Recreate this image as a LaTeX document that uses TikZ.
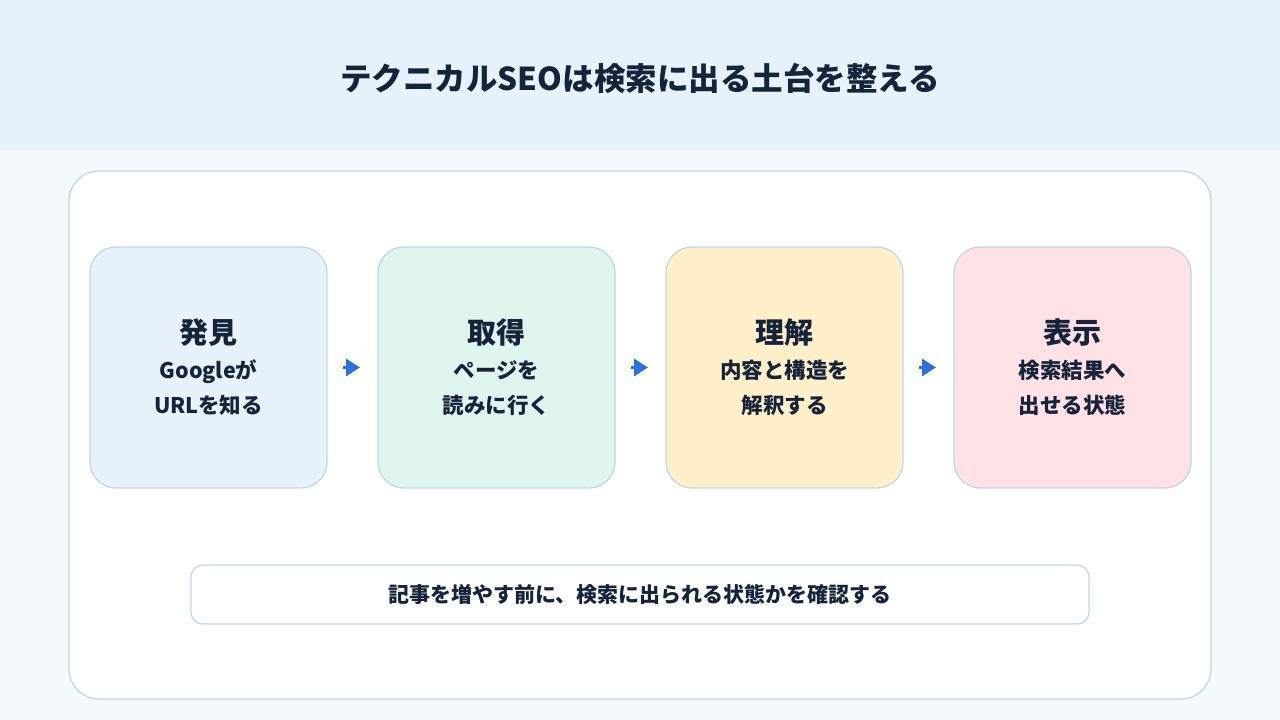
\documentclass[tikz,border=0pt]{standalone}
\usepackage{fontspec}
\setmainfont{Noto Sans CJK JP}
\usetikzlibrary{positioning,calc,arrows.meta}
\definecolor{headbg}{HTML}{E6F3FD}
\definecolor{pagebg}{HTML}{F4F9FD}
\definecolor{panelline}{HTML}{BCD9EC}
\definecolor{inkdark}{HTML}{15243B}
\definecolor{arrowblue}{HTML}{2C6FE0}
\definecolor{fillfind}{HTML}{E8F2FC}
\definecolor{fillfetch}{HTML}{DFF6EF}
\definecolor{fillread}{HTML}{FFF0C9}
\definecolor{fillshow}{HTML}{FFE1E6}
\def\stepwidth{237pt}
\def\stepheight{241pt}
\def\stepgap{51pt}

\begin{document}
\begin{tikzpicture}[x=1pt,y=1pt,
    stepbox/.style={draw=panelline, line width=1.3pt, rounded corners=26pt,
      minimum width=\stepwidth, minimum height=\stepheight, inner sep=0pt,
      outer sep=0pt, align=center, text=inkdark,
      font=\bfseries\fontsize{21.5}{35}\selectfont},
    flowarrow/.style={-{Triangle[length=14pt,width=17pt]}, arrowblue,
      line width=3pt, shorten <=16pt, shorten >=18pt}
  ]
  \useasboundingbox (0,0) rectangle (1280,720);
  \fill[pagebg] (0,0) rectangle (1280,720);
  \fill[headbg] (0,570) rectangle (1280,720);

  \node[text=inkdark, font=\bfseries\fontsize{31.5}{38}\selectfont] (title) at (640,642)
    {テクニカルSEOは検索に出る土台を整える};

  \node[draw=panelline, line width=1.3pt, fill=white, rounded corners=30pt,
    minimum width=1142pt, minimum height=528pt] (main panel) at (640,285) {};

  \node[stepbox, fill=fillfind] (step-find) at (208.5,352.5)
    {{\fontsize{29}{35}\selectfont 発見}\\Googleが\\URLを知る};
  \node[stepbox, fill=fillfetch, right=\stepgap of step-find] (step-fetch)
    {{\fontsize{29}{35}\selectfont 取得}\\ページを\\読みに行く};
  \node[stepbox, fill=fillread, right=\stepgap of step-fetch] (step-read)
    {{\fontsize{29}{35}\selectfont 理解}\\内容と構造を\\解釈する};
  \node[stepbox, fill=fillshow, right=\stepgap of step-read] (step-show)
    {{\fontsize{29}{35}\selectfont 表示}\\検索結果へ\\出せる状態};

  \draw[flowarrow] (step-find) -- (step-fetch);
  \draw[flowarrow] (step-fetch) -- (step-read);
  \draw[flowarrow] (step-read) -- (step-show);

  \node[draw=panelline, line width=1.3pt, fill=white, rounded corners=12pt,
    minimum width=898pt, minimum height=59pt, text=inkdark,
    font=\bfseries\fontsize{21}{24}\selectfont] (check-note) at (640,125.5)
    {記事を増やす前に、検索に出られる状態かを確認する};

\end{tikzpicture}
\end{document}
